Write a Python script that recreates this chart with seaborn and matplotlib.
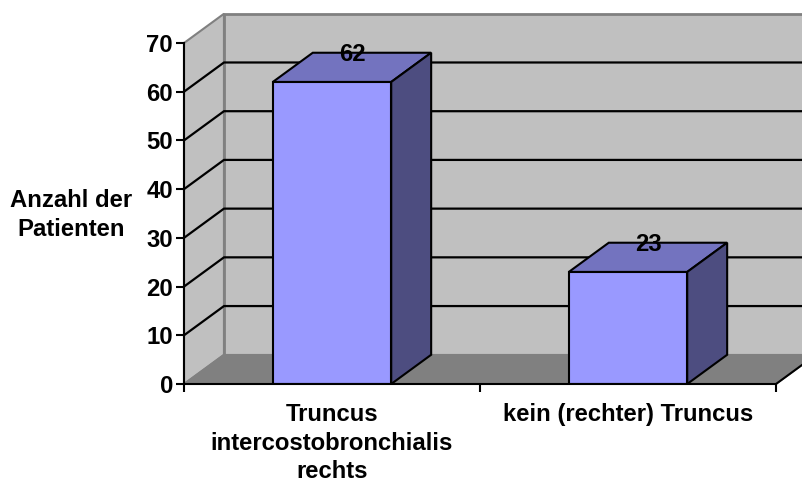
import matplotlib
matplotlib.use("Agg")
import matplotlib.pyplot as plt
from matplotlib.patches import Polygon
import seaborn as sns
import pandas as pd

# Data
categories = ["Truncus\nintercostobronchialis\nrechts", "kein (rechter) Truncus"]
patients = [62, 23]
y_ticks = [0, 10, 20, 30, 40, 50, 60, 70]
y_label = "Anzahl der\nPatienten"

# Styling / pseudo-3D geometry
FRONT = "#9999FF"
TOP = "#7373BF"
SIDE = "#4D4D80"
WALL = "#C0C0C0"
FLOOR = "#808080"
EDGE_GRAY = "#808080"
DEPTH_X = 0.135   # oblique depth in category units
DEPTH_Y = 6.0     # oblique depth in value units
BAR_WIDTH = 0.4
FS = 17.2

sns.set_theme(style="ticks")
plt.rcParams["font.family"] = ["Liberation Sans", "DejaVu Sans"]
plt.rcParams["font.weight"] = "bold"
plt.rcParams["text.color"] = "black"
plt.rcParams["axes.labelcolor"] = "black"
plt.rcParams["xtick.color"] = "black"
plt.rcParams["ytick.color"] = "black"

fig = plt.figure(figsize=(8.03, 4.84), dpi=100)
ax = fig.add_axes([184 / 803, 100 / 484, 592 / 803, 341 / 484])

ymax = y_ticks[-1]
x0, x1 = -0.5, len(categories) - 0.5

# Walls and floor of the 3D box
side_wall = Polygon([(x0, 0), (x0, ymax), (x0 + DEPTH_X, ymax + DEPTH_Y), (x0 + DEPTH_X, DEPTH_Y)],
                    closed=True, facecolor=WALL, edgecolor=EDGE_GRAY, lw=1.5, clip_on=False, zorder=0.5)
back_wall = Polygon([(x0 + DEPTH_X, DEPTH_Y), (x0 + DEPTH_X, ymax + DEPTH_Y),
                     (x1 + DEPTH_X, ymax + DEPTH_Y), (x1 + DEPTH_X, DEPTH_Y)],
                    closed=True, facecolor=WALL, edgecolor=EDGE_GRAY, lw=2, clip_on=False, zorder=0.4)
floor = Polygon([(x0, 0), (x1, 0), (x1 + DEPTH_X, DEPTH_Y), (x0 + DEPTH_X, DEPTH_Y)],
                closed=True, facecolor=FLOOR, edgecolor=EDGE_GRAY, lw=1.2, clip_on=False, zorder=0.6)
for p in (back_wall, side_wall, floor):
    ax.add_patch(p)

# Gridlines on the side and back walls
for t in y_ticks[1:-1]:
    ax.plot([x0, x0 + DEPTH_X, x1 + DEPTH_X], [t, t + DEPTH_Y, t + DEPTH_Y],
            color="black", lw=1.6, clip_on=False, zorder=0.7, solid_capstyle="butt")

# Front edge of the floor (right diagonal)
ax.plot([x1, x1 + DEPTH_X], [0, DEPTH_Y], color="black", lw=1.5, clip_on=False, zorder=0.8)

# Bars (front faces)
df = pd.DataFrame({"Kategorie": categories, "Anzahl": patients})
sns.barplot(data=df, x="Kategorie", y="Anzahl", color=FRONT, saturation=1,
            width=BAR_WIDTH, edgecolor="black", linewidth=1.5, ax=ax, zorder=3)

# Top and side faces of each bar, plus value labels
for bar, val in zip(ax.patches[-len(patients):], patients):
    bx, bw, bh = bar.get_x(), bar.get_width(), bar.get_height()
    top = Polygon([(bx, bh), (bx + DEPTH_X, bh + DEPTH_Y), (bx + bw + DEPTH_X, bh + DEPTH_Y), (bx + bw, bh)],
                  closed=True, facecolor=TOP, edgecolor="black", lw=1.5, clip_on=False, zorder=2.9)
    side = Polygon([(bx + bw, 0), (bx + bw, bh), (bx + bw + DEPTH_X, bh + DEPTH_Y), (bx + bw + DEPTH_X, DEPTH_Y)],
                   closed=True, facecolor=SIDE, edgecolor="black", lw=1.5, clip_on=False, zorder=2.9)
    ax.add_patch(top)
    ax.add_patch(side)
    ax.text(bx + bw / 2 + DEPTH_X / 2, bh + DEPTH_Y - 0.3, str(val), ha="center", va="center",
            fontsize=FS, fontweight="bold", color="black", zorder=5)

ax.set_xlim(x0, x1)
ax.set_ylim(0, ymax)

# Axes, ticks, labels
for s in ("top", "right"):
    ax.spines[s].set_visible(False)
for s in ("left", "bottom"):
    ax.spines[s].set_color("black")
    ax.spines[s].set_linewidth(1.5)
    ax.spines[s].set_zorder(4)

ax.set_yticks(y_ticks)
ax.set_yticklabels([str(t) for t in y_ticks], fontsize=FS, fontweight="bold", color="black")
ax.tick_params(axis="y", direction="out", length=6, width=1.5, pad=2, colors="black")

ax.set_xticks(range(len(categories)))
ax.set_xticklabels(categories, fontsize=FS, fontweight="bold", linespacing=1.3, color="black")
ax.set_xticks([x0 + i for i in range(len(categories) + 1)], minor=True)
ax.tick_params(axis="x", which="major", length=0, pad=14)
ax.tick_params(axis="x", which="minor", direction="out", length=6, width=1.5, colors="black")

ax.set_xlabel("")
ax.set_ylabel(y_label, rotation=0, fontsize=FS, fontweight="bold", ha="center", va="center",
              linespacing=1.3, color="black")
ax.yaxis.set_label_coords(-0.191, 0.496)

fig.savefig("out.png", dpi=100)
